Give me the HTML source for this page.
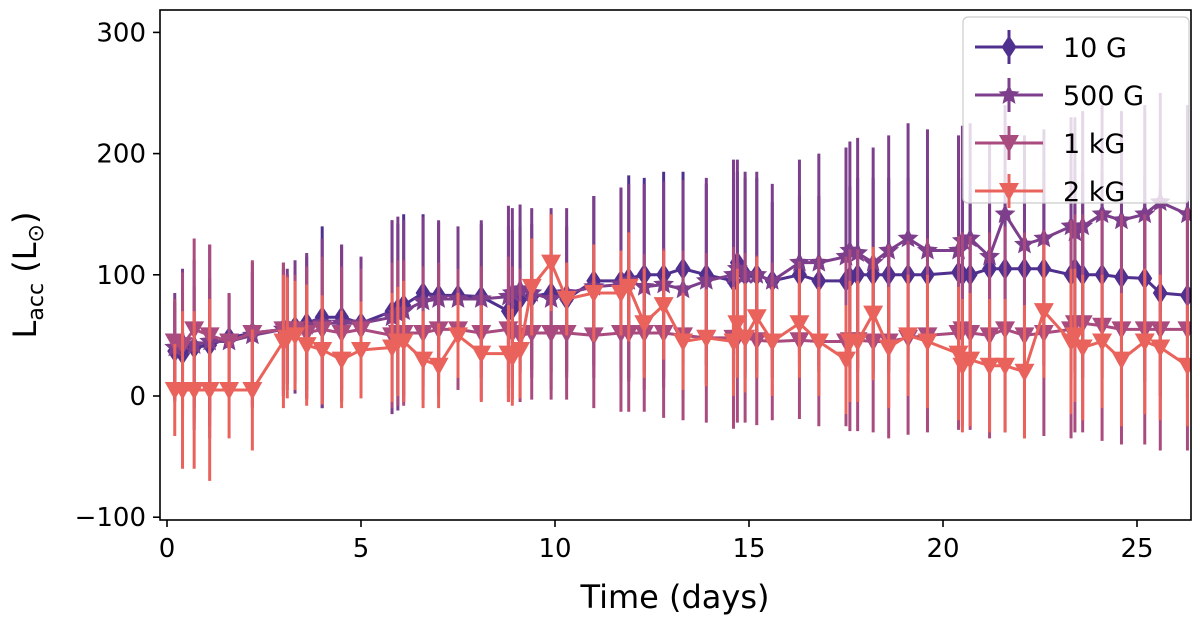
<!DOCTYPE html>
<html><head><meta charset="utf-8"><style>
body{margin:0;background:#fff;width:1200px;height:619px;overflow:hidden}
svg{font-family:"DejaVu Sans","Liberation Sans",sans-serif}
</style></head><body>
<svg id="chart" width="1200" height="619" viewBox="0 0 1200 619" xmlns="http://www.w3.org/2000/svg">
<defs><clipPath id="plotclip"><rect x="160" y="10" width="1031" height="510"/></clipPath></defs>
<g id="series" clip-path="url(#plotclip)"></g>
<rect x="160" y="10" width="1031" height="510" fill="none" stroke="#000" stroke-width="1.6"/>
<g id="axes"></g>
<text x="675" y="608" font-size="32" text-anchor="middle">Time (days)</text>
<text transform="translate(36,275) rotate(-90)" font-size="32" text-anchor="middle">L<tspan font-size="22" dy="7">acc</tspan><tspan dy="-7"> (L</tspan><tspan font-size="22" dy="7">⊙</tspan><tspan dy="-7">)</tspan></text>
<g id="legend"></g>
</svg>
<script>
const times=[0.2,0.4,0.7,1.1,1.6,2.2,3.0,3.1,3.3,3.6,4.0,4.5,5.0,5.8,5.95,6.1,6.6,7.0,7.5,8.1,8.8,8.9,9.1,9.4,9.9,10.3,11.0,11.7,11.9,12.3,12.8,13.3,13.9,14.6,14.7,14.9,15.2,15.6,16.3,16.8,17.5,17.6,17.8,18.2,18.6,19.1,19.6,20.4,20.5,20.7,21.2,21.6,22.1,22.6,23.3,23.4,23.6,24.1,24.6,25.2,25.6,26.3];
const val10G=[37,35,40,42,48,52,55,55,57,60,65,65,60,70,72,75,85,83,83,82,70,72,80,82,85,80,95,95,97,100,100,105,100,95,110,100,100,95,100,95,95,98,100,100,100,100,100,102,100,100,105,105,105,105,100,105,100,100,98,97,85,83];
const err10G=[40,45,50,55,35,50,50,45,45,55,75,60,50,75,70,75,65,60,55,60,70,65,60,60,65,60,70,75,85,80,85,80,75,85,75,80,80,65,65,70,75,75,80,80,80,80,80,75,80,70,80,80,80,80,85,85,85,85,85,85,85,85];
const val500G=[40,45,42,45,45,50,55,55,57,58,60,60,60,65,68,70,78,80,80,80,82,85,88,85,80,85,90,92,95,90,92,88,95,100,105,100,100,95,110,110,115,120,118,110,120,130,120,120,128,130,115,150,125,130,140,135,140,150,145,150,160,150];
const err500G=[45,60,70,80,40,60,55,50,55,60,70,65,55,80,80,75,70,65,60,65,75,70,70,70,75,70,75,80,80,85,85,90,85,95,90,85,85,80,85,90,90,90,95,95,95,95,100,95,95,95,95,90,90,90,90,95,95,90,90,90,90,90];
const val1kG=[45,42,55,50,45,52,55,55,55,52,55,52,55,50,52,52,52,55,55,52,55,52,50,52,52,52,50,52,52,52,52,50,48,48,48,48,46,45,46,45,45,46,46,45,45,48,50,52,55,52,50,55,50,52,55,60,60,58,55,55,55,55];
const err1kG=[35,60,75,75,40,60,55,45,45,55,60,55,50,60,60,60,55,55,50,55,60,55,55,55,55,55,60,65,65,65,70,70,70,75,70,70,70,65,65,70,70,75,75,75,80,80,80,80,80,80,85,85,85,85,90,90,90,95,95,95,100,100];
const val2kG=[5,5,5,5,5,5,45,48,50,42,38,30,38,40,45,45,30,25,50,35,35,32,38,90,110,80,85,85,90,60,75,45,48,45,60,48,65,45,60,45,30,45,45,68,40,50,45,35,25,30,25,25,20,70,45,50,40,45,30,45,40,25];
const err2kG=[38,65,65,75,40,50,55,50,45,50,45,40,40,45,45,50,40,35,35,40,40,40,40,40,40,30,40,35,45,45,45,40,40,45,45,45,50,45,45,45,45,50,50,55,50,50,55,55,55,55,55,55,55,55,60,55,60,55,55,60,60,50];
const xTicks=[0,5,10,15,20,25];
const yTicks=[-100,0,100,200,300];
const seriesNames=["10 G","500 G","1 kG","2 kG"];

const NS="http://www.w3.org/2000/svg";
const X=d=>167+38.8*d;
const Y=v=>396-1.212*v;
function mk(tag,attrs,parent){const e=document.createElementNS(NS,tag);for(const k in attrs)e.setAttribute(k,attrs[k]);parent.appendChild(e);return e;}
function markerPath(type,cx,cy,r){
  if(type==="diamond")return `M${cx},${cy-r*1.15} L${cx+r*0.75},${cy} L${cx},${cy+r*1.15} L${cx-r*0.75},${cy} Z`;
  if(type==="tri")return `M${cx-r},${cy-r*0.8} L${cx+r},${cy-r*0.8} L${cx},${cy+r} Z`;
  let p="";for(let i=0;i<10;i++){const a=-Math.PI/2+i*Math.PI/5;const rr=i%2?r*0.5:r*1.1;p+=(i?"L":"M")+(cx+rr*Math.cos(a)).toFixed(1)+","+(cy+rr*Math.sin(a)).toFixed(1);}return p+"Z";
}
const series=[
 {name:"10 G",vals:val10G,errs:err10G,color:"#50308f",m:"diamond",key:"10g"},
 {name:"500 G",vals:val500G,errs:err500G,color:"#7d3f8c",m:"star",key:"500g"},
 {name:"1 kG",vals:val1kG,errs:err1kG,color:"#a94b7e",m:"tri",key:"1kg"},
 {name:"2 kG",vals:val2kG,errs:err2kG,color:"#e9635c",m:"tri",key:"2kg"}
];
const sg=document.getElementById("series");
series.forEach(s=>{
  const g=mk("g",{},sg);
  
  
  times.forEach((t,i)=>{
    const l=mk("line",{x1:X(t),x2:X(t),y1:Y(s.vals[i]-s.errs[i]),y2:Y(s.vals[i]+s.errs[i]),stroke:s.color,"stroke-width":3},g);
    
    
  });
  const pl=mk("polyline",{points:times.map((t,i)=>X(t)+","+Y(s.vals[i])).join(" "),fill:"none",stroke:s.color,"stroke-width":3,"stroke-linejoin":"round"},g);
  
  
  times.forEach((t,i)=>{
    const p=mk("path",{d:markerPath(s.m,X(t),Y(s.vals[i]),10),fill:s.color},g);
    
    
  });
});
const ax=document.getElementById("axes");
xTicks.forEach(v=>{
  const l=mk("line",{x1:X(v),x2:X(v),y1:520,y2:527,stroke:"#000","stroke-width":1.6},ax);
  
  
  const t=mk("text",{x:X(v),y:557,"font-size":26,"text-anchor":"middle"},ax);t.textContent=v;
  
  
});
yTicks.forEach(v=>{
  const l=mk("line",{x1:153,x2:160,y1:Y(v),y2:Y(v),stroke:"#000","stroke-width":1.6},ax);
  
  
  const t=mk("text",{x:146,y:Y(v)+9,"font-size":26,"text-anchor":"end"},ax);t.textContent=v<0?"\u2212"+(-v):v;
  
  
});
const lg=document.getElementById("legend");
const fr=mk("rect",{x:963,y:17,width:226,height:186,rx:5,fill:"rgba(255,255,255,0.8)",stroke:"#ccc","stroke-width":1.2},lg);


series.forEach((s,i)=>{
  const cy=47+i*48;
  const g=mk("g",{},lg);
  
  
  mk("line",{x1:975,x2:1043,y1:cy,y2:cy,stroke:s.color,"stroke-width":3},g);
  mk("line",{x1:1009,x2:1009,y1:cy-17,y2:cy+17,stroke:s.color,"stroke-width":3},g);
  mk("path",{d:markerPath(s.m,1009,cy,10),fill:s.color},g);
  const t=mk("text",{x:1063,y:cy+10,"font-size":27},g);t.textContent=seriesNames[i];
});
</script>
</body></html>
